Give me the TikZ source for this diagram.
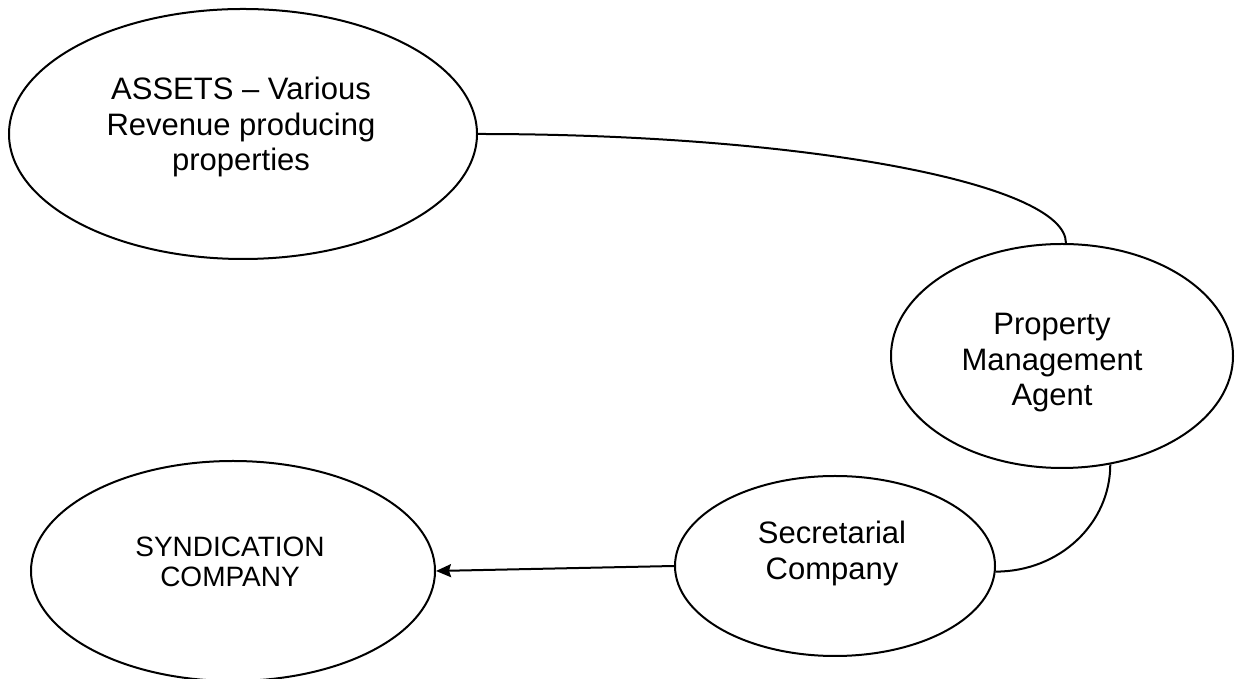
\documentclass[tikz,border=0pt]{standalone}
\usepackage{fontspec}
\setmainfont{Liberation Sans}
\usetikzlibrary{shapes.geometric,arrows.meta,calc}
\tikzset{
  bubble/.style={draw=black, line width=2pt, ellipse, inner sep=0pt},
  label31/.style={align=center, inner sep=0pt, font=\fontsize{31}{35.5}\selectfont},
  label28/.style={align=center, inner sep=0pt, font=\fontsize{28}{30.5}\selectfont},
  link/.style={draw=black, line width=2pt},
  arr/.style={link, -{Stealth[length=15pt, width=13pt, inset=2pt]}}
}
\begin{document}
\begin{tikzpicture}[x=1pt, y=1pt]
\clip (0,0) rectangle (1236,679);
\fill[white] (0,0) rectangle (1236,679);
% ellipses
\node[bubble, minimum width=468pt, minimum height=250pt] (assets) at (243,545) {};
\node[bubble, minimum width=342pt, minimum height=224pt] (pma) at (1062,323) {};
\node[bubble, minimum width=320pt, minimum height=180pt] (sec) at (835,113) {};
\node[bubble, minimum width=404pt, minimum height=220pt] (synd) at (233,108) {};
% texts
\node[label31] (assetsT) at (241,552) {ASSETS -- Various\\Revenue producing\\properties};
\node[label31] (pmaT) at (1052,316) {Property\\Management\\Agent};
\node[label31] (secT) at (832,125.5) {Secretarial\\Company};
\node[label28] (syndT) at (230,117) {SYNDICATION\\COMPANY};
% connectors
\draw[link] (assets.east) .. controls ($(assets.east)+(325,0)$) and ($(pma.88)+(0,60)$) .. (pma.88);
\draw[link] (pma.-66) .. controls ($(pma.-66)+(0,-59)$) and ($(sec.-2)+(64,0)$) .. (sec.-2);
\draw[arr] (sec.west) -- (synd.east);
\end{tikzpicture}
\end{document}
